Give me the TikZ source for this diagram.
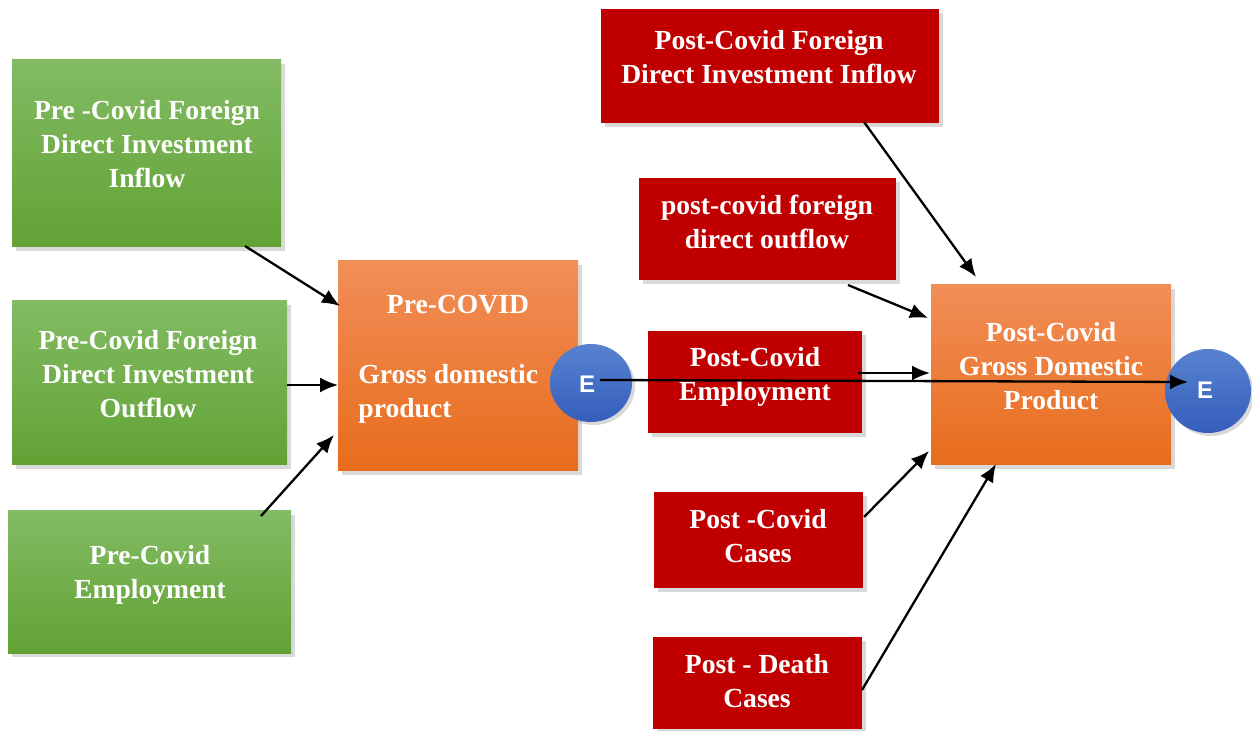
\documentclass[tikz,border=0pt]{standalone}
\usepackage{fontspec}
\setmainfont{Liberation Serif}
\newfontfamily\esans{Liberation Sans}
\usetikzlibrary{shadows,calc,arrows.meta,shapes.geometric}
\definecolor{gtop}{RGB}{130,187,100}
\definecolor{gbot}{RGB}{98,162,52}
\definecolor{otop}{RGB}{241,142,88}
\definecolor{obot}{RGB}{232,108,28}
\definecolor{btop}{RGB}{88,130,208}
\definecolor{bbot}{RGB}{52,94,186}
\definecolor{pred}{RGB}{192,0,0}
\tikzset{
  boxbase/.style={rectangle,inner sep=0pt,outer sep=0pt,draw=none,
     drop shadow={shadow xshift=2pt,shadow yshift=-2pt,opacity=0.3}},
  gbox/.style={boxbase,top color=gtop,bottom color=gbot},
  obox/.style={boxbase,top color=otop,bottom color=obot},
  rbox/.style={boxbase,fill=pred},
  ecirc/.style={ellipse,inner sep=0pt,outer sep=0pt,top color=btop,bottom color=bbot,
     drop shadow={shadow xshift=1.5pt,shadow yshift=-1.5pt,opacity=0.3}},
  txt/.style={text=white,font=\bfseries\fontsize{13.8pt}{17pt}\selectfont,align=center,inner sep=0pt},
  etxt/.style={text=white,font=\esans\bfseries\fontsize{12pt}{14pt}\selectfont,inner sep=0pt},
  arr/.style={line width=1.15pt,-{Latex[length=9pt,width=7.5pt]}}
}
\begin{document}
\begin{tikzpicture}[x=0.5pt,y=-0.5pt]
\useasboundingbox (0,0) rectangle (1252,731);
% boxes
\node[gbox,minimum width=134.5pt,minimum height=93.5pt] (g1) at (146.5,153.5) {};
\node[gbox,minimum width=137.5pt,minimum height=82pt] (g2) at (149.5,383) {};
\node[gbox,minimum width=141.5pt,minimum height=71pt] (g3) at (149.5,582) {};
\node[obox,minimum width=120pt,minimum height=105pt] (o1) at (458,366) {};
\node[rbox,minimum width=169pt,minimum height=57pt] (r1) at (770,66) {};
\node[rbox,minimum width=128.5pt,minimum height=51pt] (r2) at (767.5,229) {};
\node[rbox,minimum width=107pt,minimum height=51pt] (r3) at (755,382) {};
\node[obox,minimum width=120pt,minimum height=90pt] (o2) at (1051,375) {};
\node[rbox,minimum width=104.5pt,minimum height=48pt] (r4) at (758.5,540) {};
\node[rbox,minimum width=104.5pt,minimum height=46pt] (r5) at (757.5,683) {};
\node[ecirc,minimum width=41pt,minimum height=39pt] (e1) at (591,383) {};
\node[ecirc,minimum width=43pt,minimum height=42pt] (e2) at (1208,391) {};
% texts
\node[txt] (tg1) at (147,144) {Pre -Covid Foreign\\Direct Investment\\Inflow};
\node[txt] (tg2) at (148,374) {Pre-Covid Foreign\\Direct Investment\\Outflow};
\node[txt] (tg3) at (150,574.5) {Pre-Covid\\Employment};
\node[txt] (to1a) at (458,305) {Pre-COVID};
\node[txt,align=left,anchor=west] (to1b) at (358,394) {Gross domestic\\product};
\node[txt] (tr1) at (769,57) {Post-Covid Foreign\\Direct Investment Inflow};
\node[txt] (tr2) at (767,222) {post-covid foreign\\direct outflow};
\node[txt] (tr3) at (755,377) {Post-Covid\\Employment};
\node[txt] (to2) at (1051,366) {Post-Covid\\Gross Domestic\\Product};
\node[txt] (tr4) at (758,536) {Post -Covid\\Cases};
\node[txt] (tr5) at (757,681) {Post - Death\\Cases};
\node[etxt] (te1) at (587,384) {E};
\node[etxt] (te2) at (1205,390) {E};
% arrows
\draw[arr] ($(g1.south east)+(-36,-1)$) -- ($(o1.north west)+(2,45)$);
\draw[arr] ($(g2.east)+(0,2)$) -- ($(o1.west |- g2.east)+(0,2)$);
\draw[arr] ($(g3.north east)+(-30,5)$) -- ($(o1.south west)+(-4,-36)$);
\draw[arr] ($(r1.south east)+(-75,-1)$) -- ($(o2.north west)+(45,-8)$);
\draw[arr] ($(r2.south east)+(-48,5)$) -- ($(o2.north west)+(-3,33)$);
\draw[arr] ($(r3.east)+(-4,-9)$) -- ($(o2.west)+(-1,-2)$);
\draw[arr] ($(e1.center)+(9,-3)$) -- ($(e2.west)+(23,-9)$);
\draw[arr] ($(r4.north east)+(1,25)$) -- ($(o2.south west)+(-2,-14)$);
\draw[arr] ($(r5.east)+(0,7)$) -- ($(o2.south)+(-55,-1)$);
\end{tikzpicture}
\end{document}
